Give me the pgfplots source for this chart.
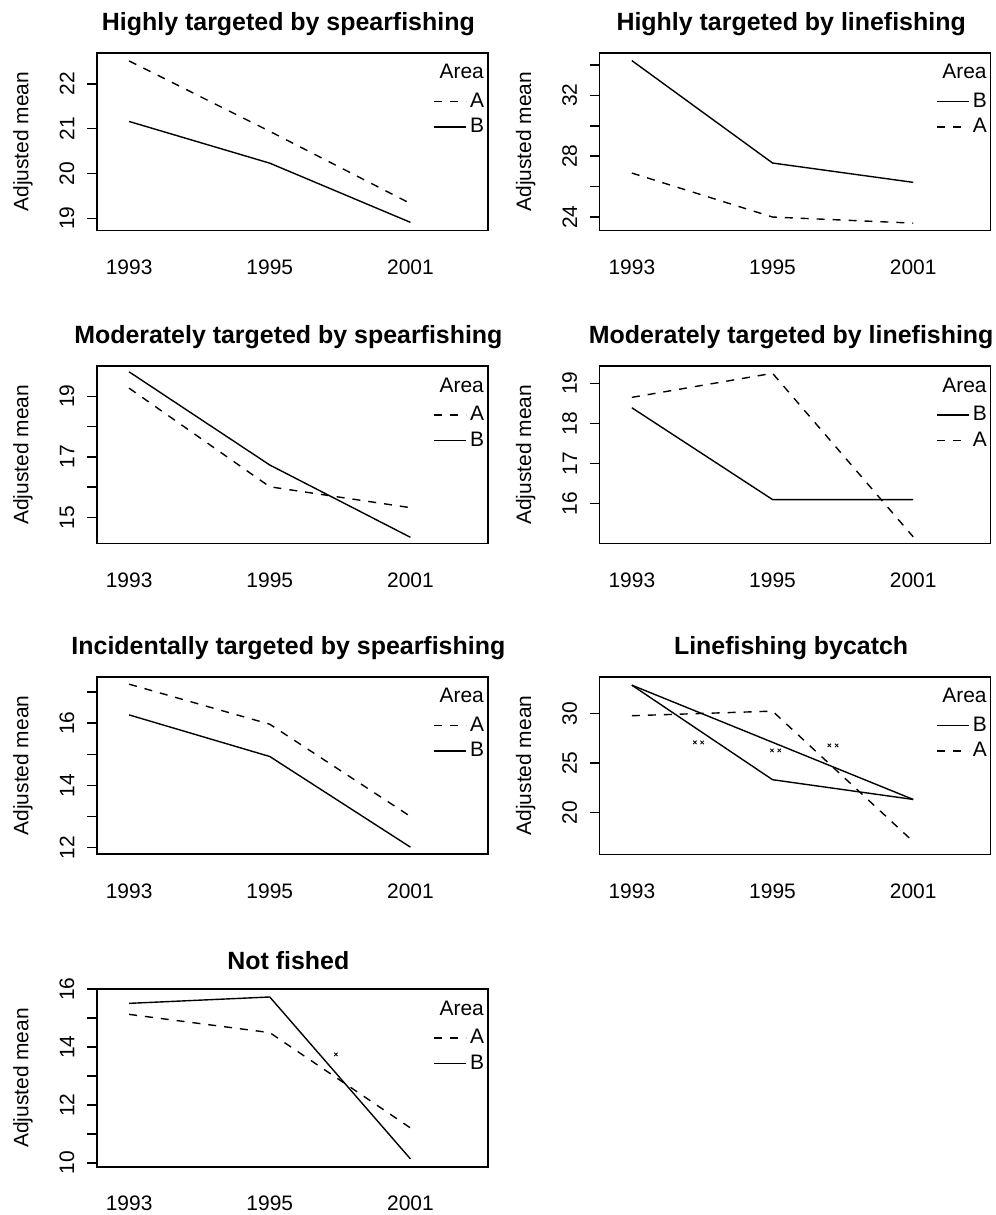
\documentclass[border=0pt]{standalone}
\usepackage{fontspec}
\setmainfont{Liberation Sans}
\usepackage{pgfplots}
\pgfplotsset{compat=1.18}

\newcommand{\lab}{\fontsize{10.5}{12}\selectfont}
\pgfplotsset{
  rpanel/.style={
    scale only axis, width=196pt, height=89pt,
    anchor=north west,
    line width=0.8pt,
    xmin=0.77, xmax=3.55,
    xtick={1,2,3}, xticklabels={1993,1995,2001},
    xtick style={draw=none},
    tick pos=left,
    tick align=outside, major tick length=5pt,
    ytick style={black, line width=0.8pt},
    minor tick num=0,
    /pgf/number format/assume math mode=true,
    tick label style={font=\lab},
    xticklabel style={yshift=-6pt},
    yticklabel style={xshift=-2.5pt, rotate=90, anchor=south},
    ylabel={Adjusted mean},
    ylabel style={at={(axis description cs:-0.189,0.5)}, anchor=center, font=\lab},
    every axis title/.style={at={(axis description cs:0.49,1.163)}, anchor=center,
      font=\bfseries\fontsize{12.5}{15}\selectfont},
    legend style={at={(axis description cs:1.0,0.795)}, anchor=north east,
      draw=none, fill=none, inner sep=0pt, row sep=1pt,
      nodes={inner sep=1.5pt}, font=\lab},
    legend cell align=left,
    legend image code/.code={
      \path (0pt,0pt) -- (16pt,0pt);
      \draw[##1] (0pt,0pt) -- (12.5pt,0pt);},
  },
  areaA/.style={black, line width=0.7pt, dash pattern=on 4pt off 4pt},
  areaB/.style={black, line width=0.7pt},
}
\newcommand{\areatitle}{\node[anchor=east, inner sep=0pt, font=\lab]
  at (axis description cs:0.992,0.893) {Area};}

\begin{document}
\begin{tikzpicture}
\path[use as bounding box] (0,0) rectangle (499pt,-609pt);

% row 1
\begin{axis}[rpanel, at={(48.5pt,-26.5pt)},
  title={Highly targeted by spearfishing},
  ymin=18.73, ymax=22.69,
  ytick={19,20,21,22}, yticklabels={19,20,21,22}]
\addplot[areaA] coordinates {(1,22.51)(2,20.94)(3,19.33)};
\addlegendentry{A}
\addplot[areaB] coordinates {(1,21.16)(2,20.23)(3,18.91)};
\addlegendentry{B}
\areatitle
\end{axis}

\begin{axis}[rpanel, at={(300.5pt,-26.5pt)},
  title={Highly targeted by linefishing},
  ymin=23.12, ymax=34.79,
  ytick={24,26,28,30,32,34}, yticklabels={24,,28,,32,}]
\addplot[areaB] coordinates {(1,34.28)(2,27.55)(3,26.28)};
\addlegendentry{B}
\addplot[areaA] coordinates {(1,26.89)(2,24.0)(3,23.6)};
\addlegendentry{A}
\areatitle
\end{axis}

% row 2
\begin{axis}[rpanel, at={(48.5pt,-183.5pt)},
  title={Moderately targeted by spearfishing},
  ymin=14.13, ymax=20.0,
  ytick={15,16,17,18,19}, yticklabels={15,,17,,19}]
\addplot[areaA] coordinates {(1,19.27)(2,16.01)(3,15.32)};
\addlegendentry{A}
\addplot[areaB] coordinates {(1,19.81)(2,16.73)(3,14.34)};
\addlegendentry{B}
\areatitle
\end{axis}

\begin{axis}[rpanel, at={(300.5pt,-183.5pt)},
  title={Moderately targeted by linefishing},
  ymin=15.0, ymax=19.43,
  ytick={16,17,18,19}, yticklabels={16,17,18,19}]
\addplot[areaB] coordinates {(1,18.39)(2,16.1)(3,16.1)};
\addlegendentry{B}
\addplot[areaA] coordinates {(1,18.65)(2,19.25)(3,15.17)};
\addlegendentry{A}
\areatitle
\end{axis}

% row 3
\begin{axis}[rpanel, at={(48.5pt,-339.2pt)},
  title={Incidentally targeted by spearfishing},
  ymin=11.78, ymax=17.5,
  ytick={12,13,14,15,16,17}, yticklabels={12,,14,,16,}]
\addplot[areaA] coordinates {(1,17.26)(2,15.97)(3,13.0)};
\addlegendentry{A}
\addplot[areaB] coordinates {(1,16.27)(2,14.93)(3,12.01)};
\addlegendentry{B}
\areatitle
\end{axis}

\begin{axis}[rpanel, at={(300.5pt,-339.2pt)},
  title={Linefishing bycatch},
  ymin=15.8, ymax=33.7,
  ytick={20,25,30}, yticklabels={20,25,30}]
\addplot[areaB] coordinates {(1,32.85)(2,23.32)(3,21.33)};
\addlegendentry{B}
\addplot[areaA] coordinates {(1,29.77)(2,30.23)(3,17.08)};
\addlegendentry{A}
\addplot[areaB, forget plot] coordinates {(1,32.85)(3,21.33)};
\addplot[only marks, mark=x, mark size=1.2pt, black, line width=0.4pt, forget plot]
  coordinates {(1.448,27.08)(1.500,27.08)(1.996,26.27)(2.048,26.27)(2.404,26.78)(2.456,26.78)};
\areatitle
\end{axis}

% row 4
\begin{axis}[rpanel, at={(48.5pt,-495.8pt)},
  title={Not fished},
  ymin=9.87, ymax=16.0,
  ytick={10,11,12,13,14,15,16}, yticklabels={10,,12,,14,,16}]
\addplot[areaA] coordinates {(1,15.13)(2,14.5)(3,11.21)};
\addlegendentry{A}
\addplot[areaB] coordinates {(1,15.51)(2,15.73)(3,10.14)};
\addlegendentry{B}
\addplot[only marks, mark=x, mark size=1.2pt, black, line width=0.4pt, forget plot]
  coordinates {(2.47,13.75)};
\areatitle
\end{axis}
\end{tikzpicture}
\end{document}
